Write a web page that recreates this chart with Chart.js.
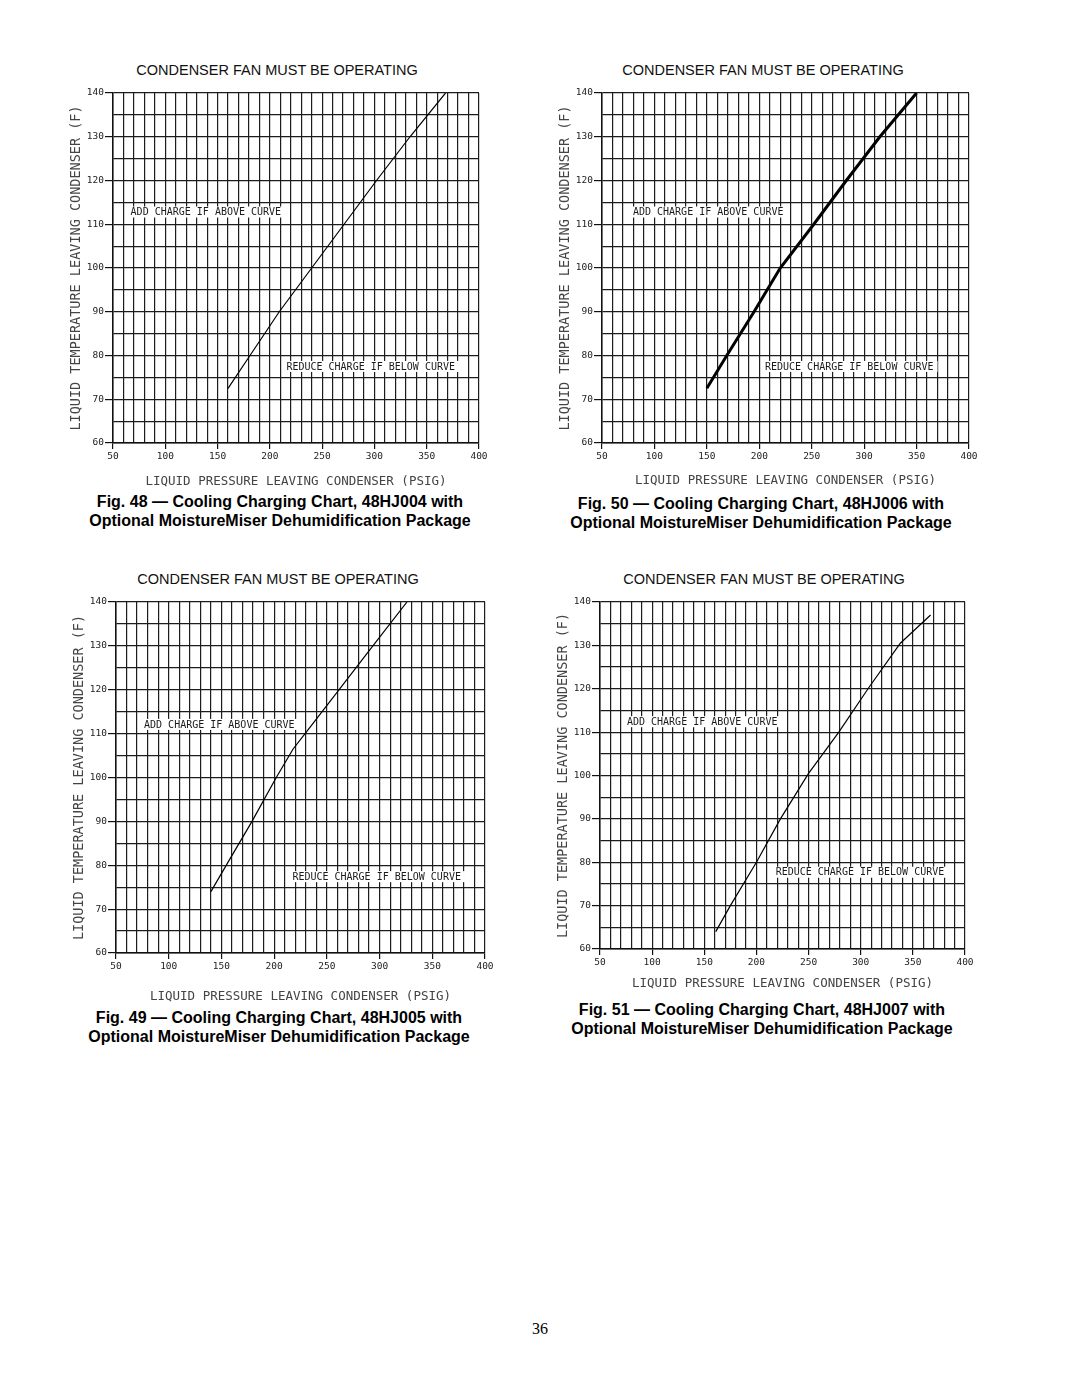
<!DOCTYPE html>
<html>
<head>
<meta charset="utf-8">
<script src="https://cdn.jsdelivr.net/npm/chart.js@4.4.1/dist/chart.umd.min.js"></script>
<style>
  body { margin: 0; background: #fff; width: 1080px; height: 1397px; position: relative; overflow: hidden; }
  canvas { position: absolute; }
  .hdr { position: absolute; width: 400px; text-align: center; white-space: nowrap;
         font: 14.5px/17px "Liberation Sans", Arial, sans-serif; color: #111; }
  .cap { position: absolute; width: 480px; text-align: center; white-space: nowrap;
         font: bold 16px/19px "Liberation Sans", Arial, sans-serif; color: #000; }
  .page { position: absolute; left: 520px; top: 1319px; width: 40px; text-align: center;
          font: 16px/20px "Liberation Serif", serif; color: #000; }
</style>
</head>
<body>

<script>
/* global Chart */

// axis ticks (psig / deg F)
const psigMin = 50, psigMax = 400, psigStep = 10, psigLabelEvery = 50;
const tempMin = 60, tempMax = 140, tempStep = 5, tempLabelEvery = 10;

// curves
const psig48 = [160, 181, 209, 240, 271, 302, 334, 368];
const temp48 = [72.5, 80, 90, 100, 110, 120, 130, 140];

const psig50 = [150, 169, 195, 220, 252, 283, 315, 350];
const temp50 = [72.5, 80, 90, 100, 110, 120, 130, 140];

const psig49 = [140, 157, 179, 202, 218, 231, 260, 292, 326];
const temp49 = [74, 81, 90, 100, 106.5, 110.5, 119.5, 129.5, 140];

const psig51 = [161, 175, 200, 223, 250, 279, 307, 338, 367];
const temp51 = [64, 70, 80, 90, 100.5, 110, 120, 130.5, 137];

const headerText = "CONDENSER FAN MUST BE OPERATING";
const xTitle = "LIQUID PRESSURE LEAVING CONDENSER (PSIG)";
const yTitle = "LIQUID TEMPERATURE LEAVING CONDENSER (F)";
const addNote = "ADD CHARGE IF ABOVE CURVE";
const reduceNote = "REDUCE CHARGE IF BELOW CURVE";

const captions = [
  ["Fig. 48 \u2014 Cooling Charging Chart, 48HJ004 with", "Optional MoistureMiser Dehumidification Package"],
  ["Fig. 50 \u2014 Cooling Charging Chart, 48HJ006 with", "Optional MoistureMiser Dehumidification Package"],
  ["Fig. 49 \u2014 Cooling Charging Chart, 48HJ005 with", "Optional MoistureMiser Dehumidification Package"],
  ["Fig. 51 \u2014 Cooling Charging Chart, 48HJ007 with", "Optional MoistureMiser Dehumidification Package"],
];

// page layout for each panel (plot box in page pixels)
const panels = [
  { psig: psig48, temp: temp48, plot: { l: 113, t: 93, r: 479, b: 443 }, gap: 39, lw: 1.2,
    hdr: { x: 277, y: 70 }, cap: { x: 280, y: 501 },
    notes: [{ text: addNote, x: 63, y: 112.8 }, { text: reduceNote, x: 212, y: 77.5 }] },
  { psig: psig50, temp: temp50, plot: { l: 602, t: 93, r: 969, b: 443 }, gap: 38, lw: 3,
    hdr: { x: 763, y: 70 }, cap: { x: 761, y: 503 },
    notes: [{ text: addNote, x: 75.7, y: 112.8 }, { text: reduceNote, x: 201.6, y: 77.5 }] },
  { psig: psig49, temp: temp49, plot: { l: 116, t: 602, r: 485, b: 953 }, gap: 44, lw: 1.2,
    hdr: { x: 278, y: 579 }, cap: { x: 279, y: 1017 },
    notes: [{ text: addNote, x: 72.8, y: 112.1 }, { text: reduceNote, x: 213.5, y: 77.4 }] },
  { psig: psig51, temp: temp51, plot: { l: 600, t: 602, r: 965, b: 949 }, gap: 35, lw: 1.2,
    hdr: { x: 764, y: 579 }, cap: { x: 762, y: 1009 },
    notes: [{ text: addNote, x: 72, y: 112.4 }, { text: reduceNote, x: 214.6, y: 77.7 }] },
];

const MONO = "'DejaVu Sans Mono', monospace";

// white boxed labels placed in data units
const notesPlugin = {
  id: "chartNotes",
  afterDraw(chart, args, opts) {
    const { ctx } = chart;
    const xs = chart.scales.x, ys = chart.scales.y;
    ctx.save();
    ctx.font = "10px " + MONO;
    ctx.textBaseline = "middle";
    for (const n of opts.items || []) {
      const px = xs.getPixelForValue(n.x);
      const py = ys.getPixelForValue(n.y);
      const w = ctx.measureText(n.text).width;
      ctx.fillStyle = "#fff";
      ctx.fillRect(px, py - 5.5, w + 8, 11);
      ctx.fillStyle = "#1a1a1a";
      ctx.fillText(n.text, px + 4, py + 0.5);
    }
    ctx.restore();
  },
};

function addDiv(cls, html, x, y, w, lineH) {
  const d = document.createElement("div");
  d.className = cls;
  d.innerHTML = html;
  d.style.left = (x - w / 2) + "px";
  d.style.top = (y - lineH / 2) + "px";
  document.body.appendChild(d);
}

function makePanel(p, i) {
  addDiv("hdr", headerText, p.hdr.x, p.hdr.y, 400, 17);
  addDiv("cap", captions[i].join("<br>"), p.cap.x, p.cap.y, 480, 19);

  const padTop = 12, padRight = 12, yW = 60;
  const xH = p.gap + 11;
  const L = p.plot.l - yW;
  const T = p.plot.t - padTop;
  const W = p.plot.r - L + padRight;
  const H = p.plot.b - T + xH;

  const cv = document.createElement("canvas");
  cv.width = W; cv.height = H;
  cv.style.left = L + "px"; cv.style.top = T + "px";
  document.body.appendChild(cv);

  const gridColor = "#1c1c1c";

  new Chart(cv, {
    type: "scatter",
    data: {
      datasets: [{
        data: p.psig.map((x, k) => ({ x, y: p.temp[k] })),
        showLine: true,
        borderColor: "#000",
        borderWidth: p.lw,
        pointRadius: 0,
        fill: false,
      }],
    },
    options: {
      responsive: false,
      animation: false,
      layout: { padding: { top: padTop, right: padRight, left: 0, bottom: 0 } },
      plugins: {
        legend: { display: false },
        tooltip: { enabled: false },
        chartNotes: { items: p.notes },
      },
      scales: {
        x: {
          type: "linear",
          min: psigMin, max: psigMax,
          afterFit: (s) => { s.height = xH; },
          border: { display: true, color: "#111", width: 1.5 },
          grid: {
            color: gridColor, lineWidth: 1.2, tickLength: 6,
            tickColor: (c) => (c.tick && c.tick.value % psigLabelEvery === 0 ? "#111" : "rgba(0,0,0,0)"),
          },
          ticks: {
            stepSize: psigStep, autoSkip: false, maxRotation: 0, padding: 2,
            color: "#222", font: { family: MONO, size: 9.5 },
            callback: (v) => (v % psigLabelEvery === 0 ? String(v) : ""),
          },
          title: {
            display: true, text: xTitle, color: "#444",
            font: { family: MONO, size: 12.5 },
            padding: { top: 0, bottom: 3.5 },
          },
        },
        y: {
          type: "linear",
          min: tempMin, max: tempMax,
          afterFit: (s) => { s.width = yW; },
          border: { display: true, color: "#111", width: 1.5 },
          grid: {
            color: gridColor, lineWidth: 1.2, tickLength: 8,
            tickColor: (c) => (c.tick && c.tick.value % tempLabelEvery === 0 ? "#111" : "rgba(0,0,0,0)"),
          },
          ticks: {
            stepSize: tempStep, autoSkip: false, padding: 1,
            color: "#222", font: { family: MONO, size: 9.5 },
            callback: (v) => (v % tempLabelEvery === 0 ? String(v) : ""),
          },
          title: {
            display: true, text: yTitle, color: "#444",
            font: { family: MONO, size: 13.5 },
            padding: { top: 15, bottom: 0 },
          },
        },
      },
    },
    plugins: [notesPlugin],
  });
}

try {
  panels.forEach(makePanel);
  const pg = document.createElement("div");
  pg.className = "page";
  pg.textContent = "36";
  document.body.appendChild(pg);
} catch (e) {
  document.body.innerHTML = `<pre style="white-space:pre-wrap;padding:16px;">${String(e && e.stack || e)}</pre>`;
}
</script>
</body>
</html>
